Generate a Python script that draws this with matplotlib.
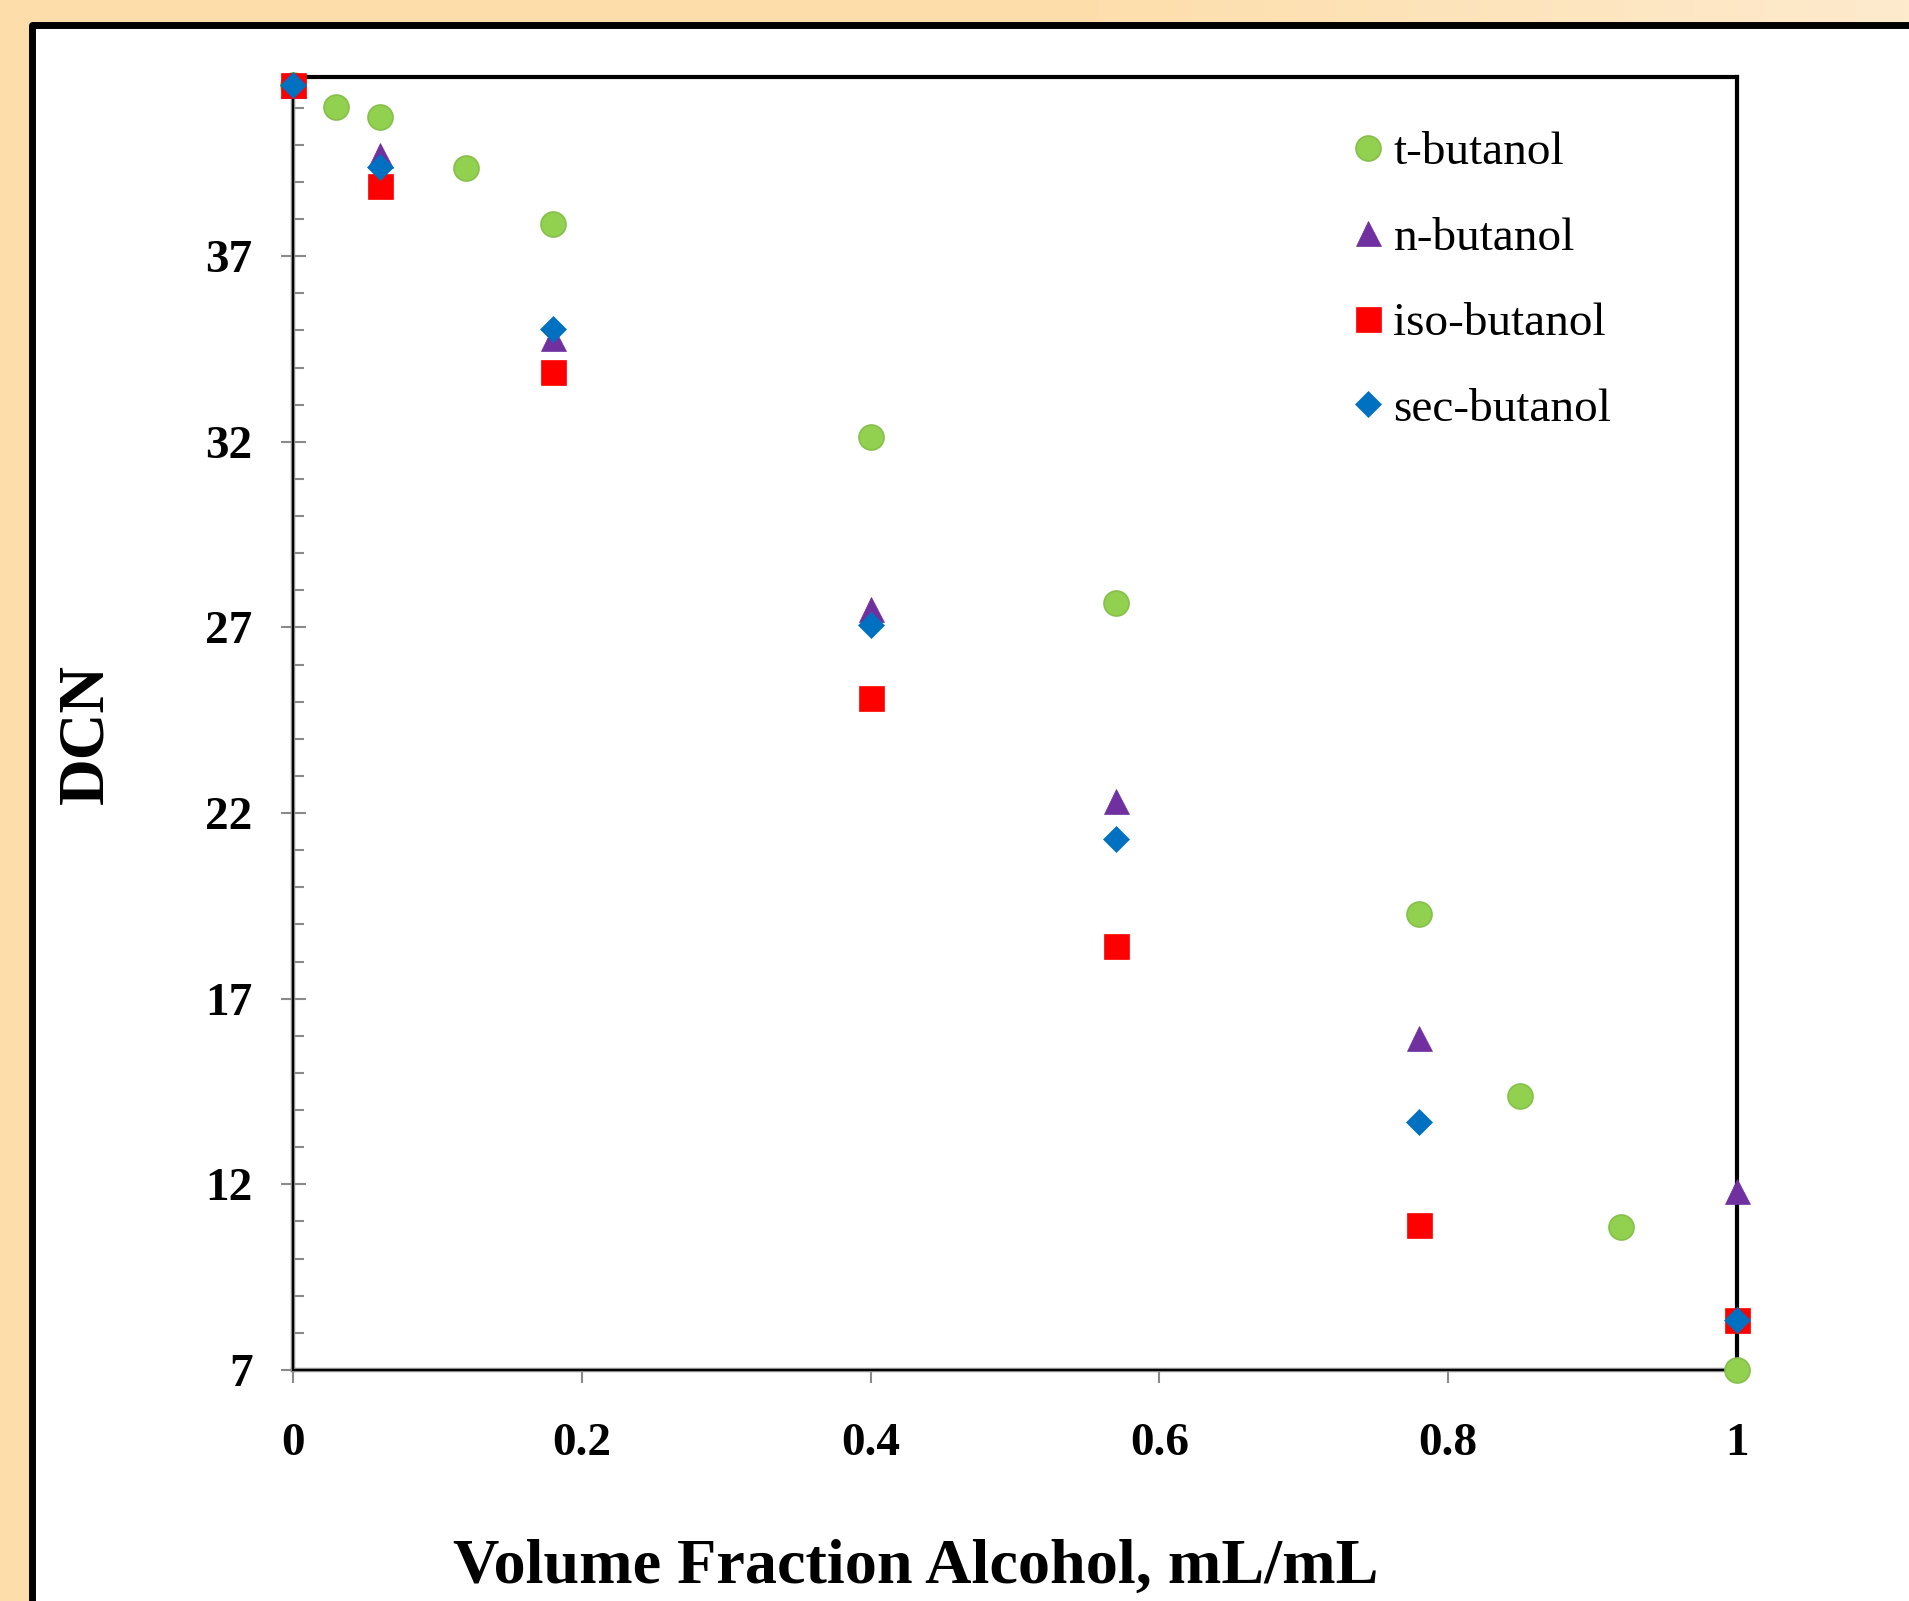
import numpy as np
import matplotlib.pyplot as plt
from matplotlib.patches import Rectangle
from matplotlib.ticker import MultipleLocator, FixedLocator

plt.rcParams['font.family'] = ['Liberation Serif', 'DejaVu Serif']

# DCN vs volume fraction of alcohol
x_t = [0, 0.03, 0.06, 0.12, 0.18, 0.40, 0.57, 0.78, 0.85, 0.92, 1.0]
y_t = [41.62, 41.01, 40.75, 39.37, 37.86, 32.12, 27.67, 19.29, 14.37, 10.84, 7.0]

x_n = [0, 0.06, 0.18, 0.40, 0.57, 0.78, 1.0]
y_n = [41.62, 39.72, 34.80, 27.51, 22.33, 15.94, 11.82]

x_iso = [0, 0.06, 0.18, 0.40, 0.57, 0.78, 1.0]
y_iso = [41.62, 38.88, 33.88, 25.10, 18.43, 10.91, 8.34]

x_sec = [0, 0.06, 0.18, 0.40, 0.57, 0.78, 1.0]
y_sec = [41.62, 39.40, 35.04, 27.07, 21.30, 13.68, 8.34]

W, H = 1909, 1601
fig = plt.figure(figsize=(W / 100, H / 100), dpi=100)

# orange backdrop, lighter towards the right
bg = fig.add_axes([0, 0, 1, 1], zorder=-10)
left_col = np.array([253, 222, 170]) / 255
right_col = np.array([254, 234, 205]) / 255
t = np.clip((np.linspace(0, 1, 400) - 0.55) / 0.45, 0, 1)
grad = left_col[None, :] * (1 - t[:, None]) + right_col[None, :] * t[:, None]
bg.imshow(grad[None, :, :], aspect='auto', extent=[0, 1, 0, 1])
bg.axis('off')

# white panel with thick black border (runs off right and bottom)
fig.patches.append(Rectangle((31.5 / W, -0.05), 1.2, 1.05 - 25.5 / H,
                             transform=fig.transFigure, facecolor='white',
                             edgecolor='black', linewidth=5, zorder=-5,
                             joinstyle='round'))

ax = fig.add_axes([293 / W, 1 - 1370 / H, (1737 - 293) / W, (1370 - 77.3) / H])
ax.set_facecolor('white')

ms = 18
ax.plot(x_t, y_t, 'o', ms=ms, color='#92D050', mec='#86BF4A', mew=1.2,
        label='t-butanol', clip_on=False, zorder=4)
ax.plot(x_n, y_n, '^', ms=ms, color='#7030A0', mec='#7030A0', mew=0.5,
        label='n-butanol', clip_on=False, zorder=4)
ax.plot(x_iso, y_iso, 's', ms=ms, color='#FF0000', mec='#FF0000', mew=0.5,
        label='iso-butanol', clip_on=False, zorder=4)
ax.plot(x_sec, y_sec, 'D', ms=13.5, color='#0070C0', mec='#0070C0', mew=0.5,
        label='sec-butanol', clip_on=False, zorder=4)

ax.set_xlim(0, 1)
ax.set_ylim(7, 41.82)
ax.xaxis.set_major_locator(FixedLocator([0, 0.2, 0.4, 0.6, 0.8, 1.0]))
ax.set_xticklabels(['0', '0.2', '0.4', '0.6', '0.8', '1'])
ax.yaxis.set_major_locator(FixedLocator([7, 12, 17, 22, 27, 32, 37]))
ax.yaxis.set_minor_locator(MultipleLocator(1))

for s in ['top', 'right']:
    ax.spines[s].set_color('black')
    ax.spines[s].set_linewidth(3)
for s in ['left', 'bottom']:
    ax.spines[s].set_color('#8a8a8a')
    ax.spines[s].set_linewidth(3.2)
ax.axvline(0, color='black', lw=1.4, clip_on=False, zorder=2.6)
ax.axhline(7, color='black', lw=1.4, clip_on=False, zorder=2.6)

ax.tick_params(axis='y', which='major', direction='inout', length=18, width=1.5,
               color='#8a8a8a', pad=20, labelsize=34)
ax.tick_params(axis='y', which='minor', direction='in', length=8, width=1.5,
               color='#8a8a8a')
ax.tick_params(axis='x', which='major', direction='out', length=9.5, width=1.5,
               color='#8a8a8a', pad=29, labelsize=34)
for lab in ax.get_xticklabels() + ax.get_yticklabels():
    lab.set_fontweight('bold')

fig.text(916 / W, 1 - 1583 / H, 'Volume Fraction Alcohol, mL/mL', ha='center',
         va='baseline', fontsize=46.2, fontweight='bold')
fig.text(86 / W, 1 - 734 / H, 'DCN', rotation=90, ha='center', va='center',
         fontsize=46.5, fontweight='bold')

ax.legend(loc='upper left', bbox_to_anchor=(1351 / W, 1 - 131 / H),
          bbox_transform=fig.transFigure, frameon=False, fontsize=34,
          handlelength=0.7, handletextpad=0.2, labelspacing=0.9,
          borderpad=0, borderaxespad=0)

fig.savefig('out.png', dpi=100)
